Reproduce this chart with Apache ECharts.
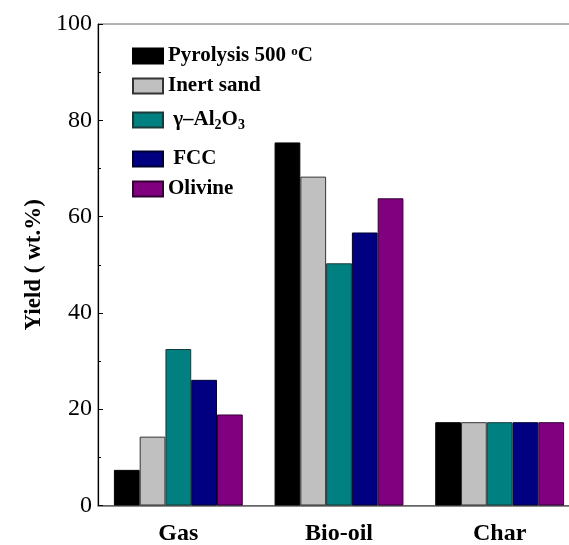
<!DOCTYPE html>
<html>
<head>
<meta charset="utf-8">
<script src="https://cdn.jsdelivr.net/npm/echarts@6/dist/echarts.min.js"></script>
<style>html,body{margin:0;padding:0;background:#fff}#c{width:569px;height:545px}</style>
</head>
<body>
<div id="c"></div>
<script>
var categories = ['Gas', 'Bio-oil', 'Char'];
var seriesNames = ['Pyrolysis 500 oC', 'Inert sand', 'γ–Al2O3', 'FCC', 'Olivine'];
var pyrolysis = [7.4, 75.4, 17.3];
var inertSand = [14.3, 68.3, 17.3];
var alumina = [32.5, 50.3, 17.3];
var fcc = [26.1, 56.7, 17.3];
var olivine = [18.9, 63.8, 17.3];
var yTicks = [0, 20, 40, 60, 80, 100];

var colors = ['#000000', '#c0c0c0', '#008080', '#000080', '#800080'];
var borders = ['#000000', '#333333', '#1a3a3a', '#000033', '#330033'];
var values = [pyrolysis, inertSand, alumina, fcc, olivine];
var legendLabels = ['Pyrolysis 500 {sup|o}C', 'Inert sand', ' γ–Al{sub|2}O{sub|3}', ' FCC', 'Olivine'];
var legendTops = [45.5, 75.5, 109.5, 148.5, 178.5];

var font = 'Liberation Serif';
var chart = echarts.init(document.getElementById('c'));

var legends = seriesNames.map(function (n, i) {
  return {
    data: [n],
    left: 132,
    top: legendTops[i],
    padding: 0,
    orient: 'vertical',
    icon: 'rect',
    itemWidth: 30,
    itemHeight: 15,
    selectedMode: false,
    formatter: function () { return legendLabels[i]; },
    textStyle: {
      fontFamily: font, fontWeight: 'bold', fontSize: 21, color: '#000',
      rich: {
        sup: { fontFamily: font, fontWeight: 'bold', fontSize: 13, verticalAlign: 'top', padding: [0, 0, 8, 0] },
        sub: { fontFamily: font, fontWeight: 'bold', fontSize: 14, verticalAlign: 'bottom', padding: [10, 0, 0, 0] }
      }
    }
  };
});

chart.setOption({
  animation: false,
  legend: legends,
  grid: { left: 98, top: 24, width: 482, height: 481.5, show: true, borderColor: '#666', borderWidth: 1, outerBoundsMode: 'none', containLabel: false },
  xAxis: {
    type: 'category',
    data: categories,
    axisLine: { lineStyle: { color: '#666', width: 1.5 } },
    axisTick: { show: false },
    axisLabel: { fontFamily: font, fontWeight: 'bold', fontSize: 24, color: '#000', margin: 16 }
  },
  yAxis: {
    type: 'value',
    min: 0, max: 100, interval: 20,
    name: 'Yield ( wt.%)',
    nameLocation: 'middle',
    nameGap: 52,
    nameTextStyle: { fontFamily: font, fontWeight: 'bold', fontSize: 23, color: '#000' },
    axisLine: { show: true, lineStyle: { color: '#000', width: 1.2 } },
    axisTick: { show: true, inside: true, length: 5, lineStyle: { color: '#000' } },
    minorTick: { show: true, splitNumber: 2, length: 3, lineStyle: { color: '#000' } },
    splitLine: { show: false },
    axisLabel: {
      fontFamily: font, fontSize: 24, color: '#000', margin: 6,
      formatter: function (v) { return yTicks.indexOf(v) >= 0 ? String(v) : ''; }
    }
  },
  series: seriesNames.map(function (n, i) {
    return {
      name: n,
      type: 'bar',
      data: values[i],
      barGap: '0%',
      barCategoryGap: '19.8%',
      itemStyle: { color: colors[i], borderColor: borders[i], borderWidth: 1 }
    };
  })
});
</script>
</body>
</html>
